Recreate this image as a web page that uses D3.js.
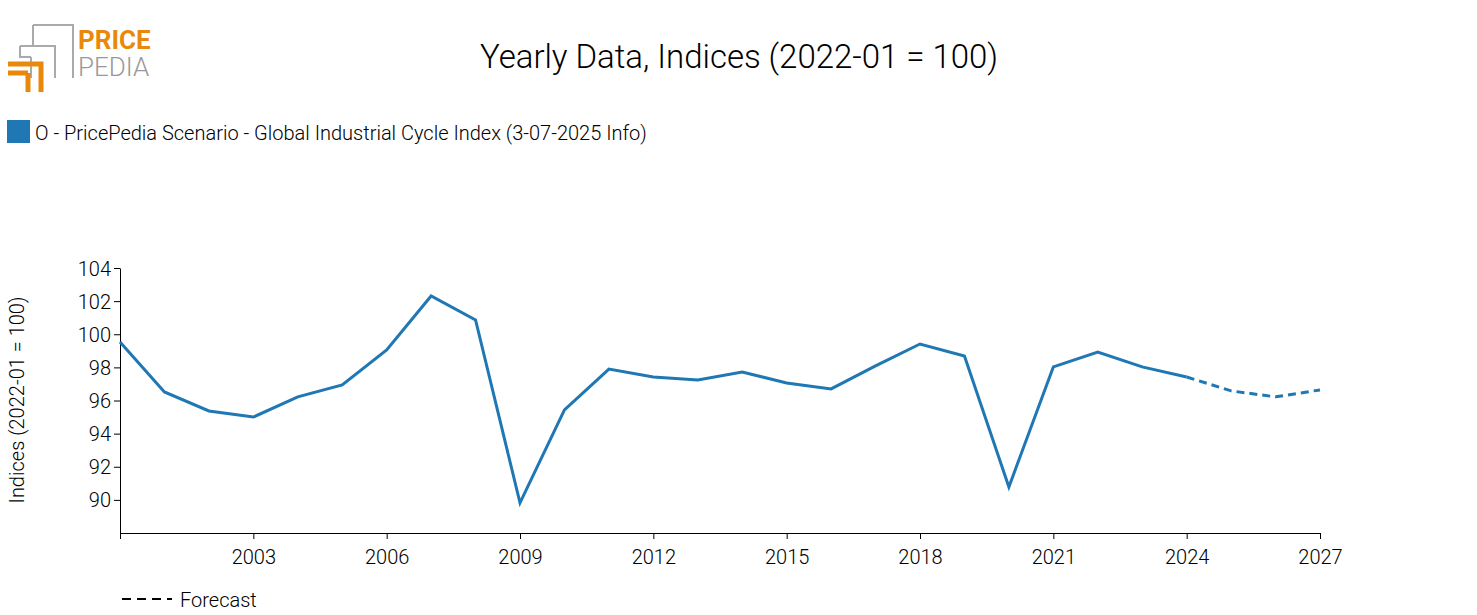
<!DOCTYPE html>
<html><head><meta charset="utf-8">
<script src="https://cdn.jsdelivr.net/npm/d3@7"></script>
<style>body{margin:0;background:#fff;font-family:Roboto,sans-serif;font-weight:300}</style>
</head><body><svg id="c" width="1477" height="615"></svg>
<script>
const years=[2000,2001,2002,2003,2004,2005,2006,2007,2008,2009,2010,2011,2012,2013,2014,2015,2016,2017,2018,2019,2020,2021,2022,2023,2024,2025,2026,2027];
const values=[99.53,96.52,95.37,95.0,96.22,96.94,99.05,102.31,100.86,89.82,95.43,97.9,97.42,97.24,97.72,97.06,96.7,98.09,99.41,98.69,90.78,98.03,98.93,98.03,97.42,96.58,96.22,96.64];
const forecastStart=2024;
const yTicks=[90,92,94,96,98,100,102,104];
const xTicks=[2000,2003,2006,2009,2012,2015,2018,2021,2024,2027];
const color="#1f77b4";
const svg=d3.select("#c");
const x=d3.scaleLinear().domain([2000,2027]).range([120,1320]);
const y=d3.scaleLinear().domain([88,104]).range([533,268]);
const ff="Roboto,sans-serif";
// logo
const lg=svg.append("g");
lg.append("path").attr("d","M33,25 H73 V78 M33,25 V45").attr("fill","none").attr("stroke","#aaa").attr("stroke-width",2);
lg.append("path").attr("d","M20,46 H55 V78 M31,57 V78 M20,46 V57 H31").attr("fill","none").attr("stroke","#aaa").attr("stroke-width",2);
lg.append("path").attr("d","M8,64 H41 V92 M28,73 V92 M8,73 H28").attr("fill","none").attr("stroke","#e8890c").attr("stroke-width",5);
lg.append("text").attr("x",78).attr("y",49).text("PRICE").attr("font-family",ff).attr("font-weight",700).attr("font-size",26).attr("fill","#e8890c");
lg.append("text").attr("x",78).attr("y",76).text("PEDIA").attr("font-family",ff).attr("font-weight",300).attr("font-size",26).attr("fill","#999");
svg.append("text").attr("x",739).attr("y",68).attr("text-anchor","middle").attr("font-family",ff).attr("font-weight",300).attr("font-size",33).attr("textLength",518).text("Yearly Data, Indices (2022-01 = 100)");
svg.append("rect").attr("x",7).attr("y",120).attr("width",23).attr("height",23).attr("fill",color);
svg.append("text").attr("x",35).attr("y",140).attr("font-family",ff).attr("font-weight",300).attr("font-size",20).text("O - PricePedia Scenario - Global Industrial Cycle Index (3-07-2025 Info)");
const ya=svg.append("g").attr("transform","translate(120,0)").call(d3.axisLeft(y).tickValues(yTicks).tickSize(6).tickSizeOuter(0));
const xa=svg.append("g").attr("transform","translate(0,533)").call(d3.axisBottom(x).tickValues(xTicks).tickFormat(d=>d===2000?"":d).tickSize(6).tickSizeOuter(0));
[ya,xa].forEach(a=>{a.selectAll("text").attr("font-family",ff).attr("font-weight",300).attr("font-size",20).attr("fill","#000");a.selectAll("path,line").attr("stroke","#000");});
xa.selectAll("text").attr("dy","1.1em");
ya.selectAll("text").attr("dy","0.35em");
svg.append("text").attr("transform","translate(24,400) rotate(-90)").attr("text-anchor","middle").attr("font-family",ff).attr("font-weight",300).attr("font-size",20).text("Indices (2022-01 = 100)");
const line=d3.line().x((d,i)=>x(years[i])).y(d=>y(d));
const idx=years.indexOf(forecastStart);
svg.append("path").attr("d",line(values.slice(0,idx+1))).attr("fill","none").attr("stroke",color).attr("stroke-width",3);
svg.append("path").attr("d",d3.line().x((d,i)=>x(years[i+idx])).y(d=>y(d))(values.slice(idx))).attr("fill","none").attr("stroke",color).attr("stroke-width",3).attr("stroke-dasharray","8,5");
svg.append("line").attr("x1",122).attr("x2",172).attr("y1",599).attr("y2",599).attr("stroke","#000").attr("stroke-width",2).attr("stroke-dasharray","9,6");
svg.append("text").attr("x",180).attr("y",607).attr("font-family",ff).attr("font-weight",300).attr("font-size",20).text("Forecast");
</script></body></html>
